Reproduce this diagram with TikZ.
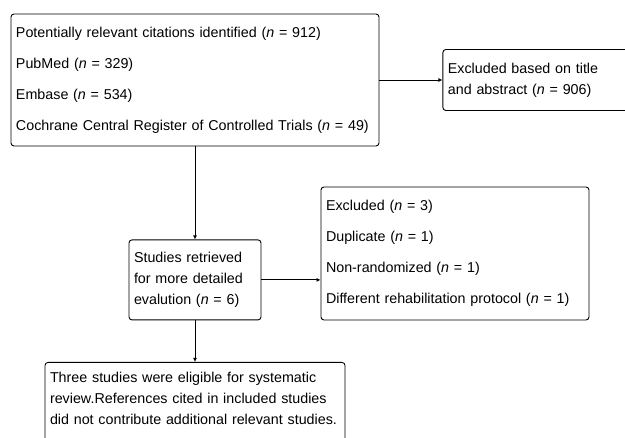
\documentclass[tikz,border=0pt]{standalone}
\usepackage{fontspec}
\setmainfont{Liberation Sans}
\usepackage{tikz}
\usetikzlibrary{arrows.meta,positioning}

\begin{document}
\begin{tikzpicture}[
        x=1pt, y=1pt,
        font=\fontsize{14.3}{21}\selectfont,
        flowbox/.style={draw, line width=0.9pt, rounded corners=3pt, align=left,
                        inner xsep=5pt, inner ysep=0pt, anchor=center},
        arr/.style={-{Latex[length=4pt,width=4pt]}, line width=0.9pt}
    ]
      \useasboundingbox (0,0) rectangle (625,438);
      \node[flowbox, text width=358pt, minimum height=132pt] (cit) at (195,358)
        {Potentially relevant citations identified (\textit{n} = 912)\\[10pt]
         PubMed (\textit{n} = 329)\\[10pt]
         Embase (\textit{n} = 534)\\[10pt]
         Cochrane Central Register of Controlled Trials (\textit{n} = 49)};
      \node[flowbox, text width=188pt, minimum height=61pt, right=63pt of cit] (excl)
        {Excluded based on title\\and abstract (\textit{n} = 906)};
      \node[flowbox, text width=122pt, minimum height=80pt, below=93pt of cit] (retr)
        {Studies retrieved\\for more detailed\\evalution (\textit{n} = 6)};
      \node[flowbox, text width=258pt, minimum height=133pt] (excl2) at (455,184.5)
        {Excluded (\textit{n} = 3)\\[10pt]
         Duplicate (\textit{n} = 1)\\[10pt]
         Non-randomized (\textit{n} = 1)\\[10pt]
         Different rehabilitation protocol (\textit{n} = 1)};
      \node[flowbox, text width=290pt, inner ysep=8pt, text height=12pt, text depth=75pt,
            anchor=north] (incl) at (195,76)
        {Three studies were eligible for systematic\\
         review.References cited in included studies\\
         did not contribute additional relevant studies.};
      \draw[arr] (cit) -- (excl);
      \draw[arr] (cit.south) -- (cit.south |- retr.north);
      \draw[arr] (retr.east) -- (excl2.west |- retr.east);
      \draw[arr] (retr.south) -- (retr.south |- incl.north);
\end{tikzpicture}
\end{document}
